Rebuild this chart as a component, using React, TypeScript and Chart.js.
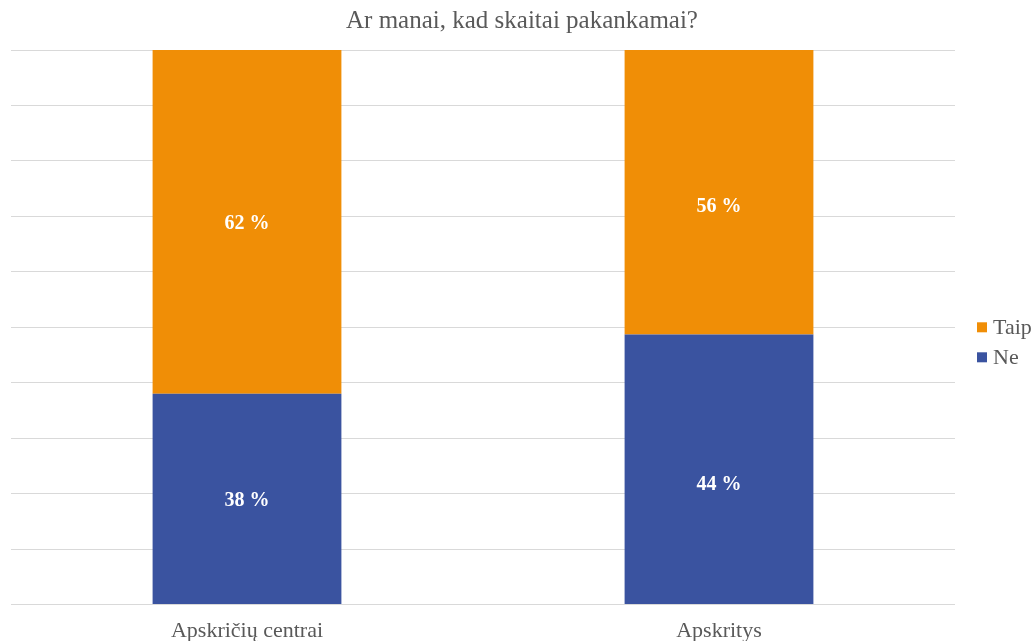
import React, { useEffect, useRef } from "react";
import { Chart, registerables } from "chart.js";

Chart.register(...registerables);

const categories = ["Apskričių centrai", "Apskritys"];
const seriesNames = ["Ne", "Taip"];
const seriesColors = ["#3a53a0", "#f08e06"];
const neValues = [38, 48.7];
const taipValues = [62, 51.3];
const neLabelValues = [38, 44];
const taipLabelValues = [62, 56];
const titleText = "Ar manai, kad skaitai pakankamai?";

const SERIF = "'Liberation Serif', 'Times New Roman', serif";

const barLabelPlugin = {
  id: "barLabels",
  afterDatasetsDraw(chart: any) {
    const ctx = chart.ctx;
    const y = chart.scales.y;
    ctx.save();
    ctx.fillStyle = "#ffffff";
    ctx.font = `bold 20px ${SERIF}`;
    ctx.textAlign = "center";
    ctx.textBaseline = "middle";
    chart.getDatasetMeta(0).data.forEach((el: any, i: number) => {
      const v = neLabelValues[i];
      ctx.fillText(`${v} %`, el.x, y.getPixelForValue(v / 2) + 2);
    });
    chart.getDatasetMeta(1).data.forEach((el: any, i: number) => {
      const v = taipLabelValues[i];
      ctx.fillText(`${v} %`, el.x, y.getPixelForValue(100 - v / 2) + 2);
    });
    ctx.restore();
  },
};

const legendPlugin = {
  id: "customLegend",
  afterDraw(chart: any) {
    const ctx = chart.ctx;
    const area = chart.chartArea;
    const x0 = area.right + 22;
    const yMid = (area.top + area.bottom) / 2 + 15;
    const items = [1, 0];
    ctx.save();
    ctx.font = `22px ${SERIF}`;
    ctx.textBaseline = "middle";
    ctx.textAlign = "left";
    items.forEach((di, k) => {
      const yy = yMid - 15 + k * 30;
      ctx.fillStyle = seriesColors[di];
      ctx.fillRect(x0, yy - 5, 10, 10);
      ctx.fillStyle = "#595959";
      ctx.fillText(seriesNames[di], x0 + 16, yy + 1);
    });
    // title
    ctx.font = `25px ${SERIF}`;
    ctx.textAlign = "center";
    ctx.fillStyle = "#595959";
    ctx.fillText(titleText, 522, 21);
    ctx.restore();
  },
};

export default function App() {
  const ref = useRef<HTMLCanvasElement>(null);
  useEffect(() => {
    document.body.style.margin = "0";
    const chart = new Chart(ref.current!, {
      type: "bar",
      data: {
        labels: categories,
        datasets: [
          { label: seriesNames[0], data: neValues, backgroundColor: seriesColors[0] },
          { label: seriesNames[1], data: taipValues, backgroundColor: seriesColors[1] },
        ],
      },
      options: {
        animation: false,
        responsive: false,
        layout: { padding: { left: 11, right: 81, top: 50, bottom: -16 } },
        datasets: { bar: { categoryPercentage: 0.4, barPercentage: 1 } } as any,
        plugins: {
          title: { display: false },
          legend: { display: false },
          tooltip: { enabled: false },
        },
        scales: {
          x: {
            stacked: true,
            grid: { display: false, drawTicks: false },
            border: { display: false },
            ticks: { color: "#595959", font: { family: SERIF, size: 22 }, padding: 13 },
          },
          y: {
            stacked: true,
            min: 0,
            max: 100,
            ticks: { display: false, stepSize: 10 },
            grid: { color: "#d9d9d9", drawTicks: false },
            border: { display: false },
          },
        },
      },
      plugins: [barLabelPlugin, legendPlugin],
    });
    return () => chart.destroy();
  }, []);
  return (
    <div style={{ width: 1036, height: 641 }}>
      <canvas ref={ref} width={1036} height={641} />
    </div>
  );
}
